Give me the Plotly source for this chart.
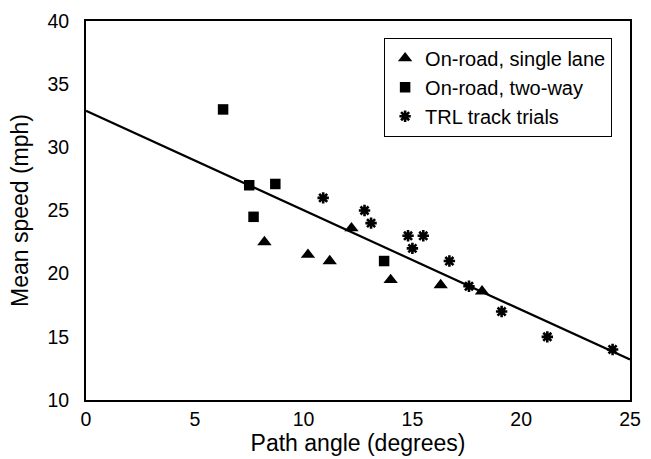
import plotly.graph_objects as go

# Data
single_lane_x = [8.2, 10.2, 11.2, 12.2, 14.0, 16.3, 18.2]
single_lane_y = [22.5, 21.5, 21.0, 23.6, 19.5, 19.1, 18.6]

two_way_x = [6.3, 7.5, 8.7, 7.7, 13.7]
two_way_y = [33.0, 27.0, 27.1, 24.5, 21.0]

trl_x = [10.9, 12.8, 13.1, 14.8, 15.5, 15.0, 16.7, 17.6, 19.1, 21.2, 24.2]
trl_y = [26.0, 25.0, 24.0, 23.0, 23.0, 22.0, 21.0, 19.0, 17.0, 15.0, 14.0]

trend_x = [0, 25]
trend_y = [32.9, 13.2]

x_ticks = [0, 5, 10, 15, 20, 25]
y_ticks = [10, 15, 20, 25, 30, 35, 40]

FONT = "Liberation Sans, Arial, sans-serif"

fig = go.Figure()
fig.add_trace(go.Scatter(x=trend_x, y=trend_y, mode="lines",
                         line=dict(color="black", width=2.2), showlegend=False,
                         hoverinfo="skip"))
fig.add_trace(go.Scatter(x=single_lane_x, y=single_lane_y, mode="markers",
                         name="On-road, single lane",
                         marker=dict(symbol="triangle-up", size=12.5, color="black")))
fig.add_trace(go.Scatter(x=two_way_x, y=two_way_y, mode="markers",
                         name="On-road, two-way",
                         marker=dict(symbol="square", size=10.5, color="black")))
fig.add_trace(go.Scatter(x=trl_x, y=trl_y, mode="markers",
                         name="TRL track trials",
                         marker=dict(symbol="asterisk", size=9.5, color="black",
                                     line=dict(color="black", width=2.6))))

fig.update_layout(
    width=651, height=459,
    margin=dict(l=86, r=10, t=17, b=57),
    paper_bgcolor="white", plot_bgcolor="white",
    font=dict(family=FONT, size=19.5, color="black"),
    legend=dict(x=0.548, y=0.956, xanchor="left", yanchor="top",
                bgcolor="white", bordercolor="black", borderwidth=1,
                font=dict(size=20), tracegroupgap=0, itemwidth=30),
    xaxis=dict(range=[0, 25], tickvals=x_ticks, showgrid=False, zeroline=False,
               showline=True, linecolor="black", linewidth=2, mirror=True,
               ticks="", ticklabelstandoff=1,
               title=dict(text="Path angle (degrees)", standoff=2)),
    yaxis=dict(range=[10, 40], tickvals=y_ticks, showgrid=False, zeroline=False,
               showline=True, linecolor="black", linewidth=2, mirror=True,
               ticks="", ticklabelstandoff=11,
               title=dict(text="Mean speed (mph)", standoff=12)),
)

fig.write_html("out.html")
